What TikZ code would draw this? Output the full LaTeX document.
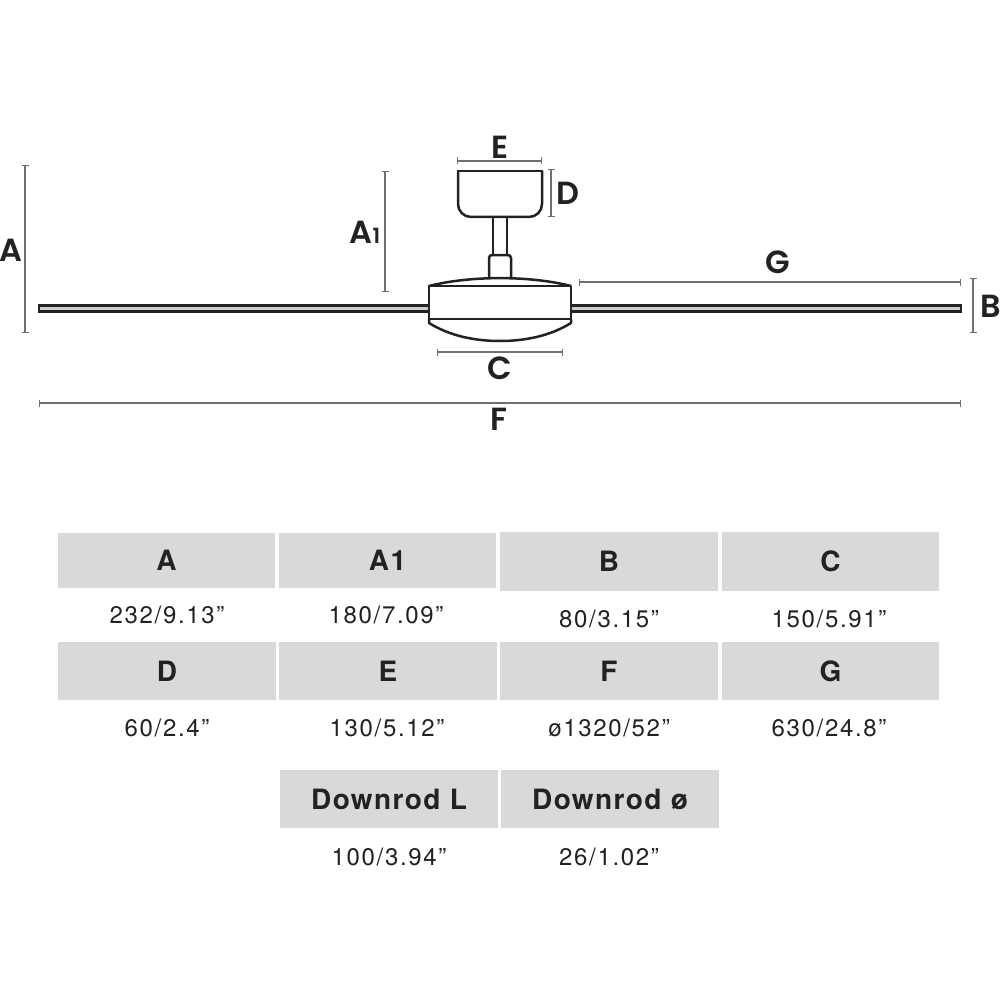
\documentclass[tikz,border=0pt]{standalone}
\usepackage{fontspec}
\setmainfont{TeX Gyre Heros}
\newfontfamily\dimfont[UprightFont=* SemiBold]{Poppins}
\newfontfamily\headfont[LetterSpace=5]{TeX Gyre Heros}
\newfontfamily\valfont[LetterSpace=7]{TeX Gyre Heros}
\usetikzlibrary{arrows.meta}
\definecolor{ink}{HTML}{222222}
\definecolor{dimgrey}{HTML}{707070}
\definecolor{cellgrey}{HTML}{D9D9D9}
\definecolor{bladegrey}{HTML}{CCCCCC}
\begin{document}
\begin{tikzpicture}[x=1pt, y=-1pt,
	part/.style = {draw=ink, line width=2.5pt, line join=round},
	blade/.style = {draw=ink, line width=2.2pt, fill=bladegrey},
	dim/.style = {draw=dimgrey, line width=1.7pt, {Bar[width=7pt,line width=1.2pt]}-{Bar[width=7pt,line width=1.2pt]}},
	dimlabel/.style = {text=ink, inner sep=0pt, font=\dimfont\fontsize{32}{32}\selectfont},
	cell/.style = {fill=cellgrey, text=ink, inner sep=0pt, minimum width=217.5pt, text height=20pt, text depth=0pt, font=\headfont\bfseries\fontsize{28}{28}\selectfont},
	val/.style = {text=ink, inner sep=0pt, font=\valfont\fontsize{24}{24}\selectfont}]

		\useasboundingbox (0,0) rectangle (1000,1000);

		% fan
		\draw[blade] (39,305.5) rectangle (429,311.5);
		\draw[blade] (571,305.5) rectangle (961,311.5);
		\draw[part, rounded corners=13pt] (458,171) -- (458,217) -- (542,217) -- (542,171);
		\draw[part] (456.8,171) -- (543.2,171);
		\draw[part] (493,217) -- (493,255);
		\draw[part] (507,217) -- (507,255);
		\draw[part, rounded corners=3pt] (489,278) -- (489,255) -- (511,255) -- (511,278);
		\draw[part] (429,286) rectangle (571,319);
		\draw[part] (429,286) .. controls (470,275.5) and (530,275.5) .. (571,286);
		\draw[part] (429,319) -- (429,323) .. controls (450,336) and (475,341) .. (500,341) .. controls (525,341) and (550,336) .. (571,323) -- (571,319);

		% dimensions
		\coordinate (Atop) at (25,165);
		\coordinate (Abot) at (25,333);
		\coordinate (A1top) at (385,171);
		\coordinate (A1bot) at (385,292);
		\coordinate (Eleft) at (457,161);
		\coordinate (Eright) at (542,161);
		\coordinate (Dtop) at (551,169);
		\coordinate (Dbot) at (551,217);
		\coordinate (Cleft) at (437,352);
		\coordinate (Cright) at (563,352);
		\coordinate (Gleft) at (578.5,282);
		\coordinate (Gright) at (961,282);
		\coordinate (Btop) at (973,278);
		\coordinate (Bbot) at (973,333);
		\coordinate (Fleft) at (39,403);
		\coordinate (Fright) at (961,403);

		\draw[dim] (Atop) -- (Abot);
		\draw[dim] (A1top) -- (A1bot);
		\draw[dim] (Eleft) -- (Eright);
		\draw[dim] (Dtop) -- (Dbot);
		\draw[dim] (Cleft) -- (Cright);
		\draw[dim] (Gleft) -- (Gright);
		\draw[dim] (Btop) -- (Bbot);
		\draw[dim] (Fleft) -- (Fright);

		\node[dimlabel] (labA) at (11,250) {A};
		\node[dimlabel] (labA1) at (365,232) {A{\fontsize{21}{21}\selectfont 1}};
		\node[dimlabel] (labE) at (500,147) {E};
		\node[dimlabel] (labD) at (568,193) {D};
		\node[dimlabel] (labC) at (500,368) {C};
		\node[dimlabel] (labG) at (778,262) {G};
		\node[dimlabel] (labB) at (991,306) {B};
		\node[dimlabel] (labF) at (499,419) {F};

		% table
		\node[cell, minimum height=55pt] (cA) at (166.5,560.5) {A};
		\node[cell, minimum height=55pt] (cA1) at (387.5,560.5) {A1};
		\node[cell, minimum height=59pt] (cB) at (609,561.5) {B};
		\node[cell, minimum height=59pt] (cC) at (830.5,561.5) {C};
		\node[cell, minimum height=58pt] (cD) at (167,671) {D};
		\node[cell, minimum height=58pt] (cE) at (388,671) {E};
		\node[cell, minimum height=57.5pt] (cF) at (609,671) {F};
		\node[cell, minimum height=57.5pt] (cG) at (830.5,671) {G};
		\node[cell, minimum height=57.5pt] (cL) at (389,799) {Downrod L};
		\node[cell, minimum height=57.5pt] (cR) at (610,799) {Downrod ø};

		\node[val] (vA) at (167,615) {232/9.13”};
		\node[val] (vA1) at (386,615) {180/7.09”};
		\node[val] (vB) at (609,619) {80/3.15”};
		\node[val] (vC) at (829,619) {150/5.91”};
		\node[val] (vD) at (167,728) {60/2.4”};
		\node[val] (vE) at (387,728) {130/5.12”};
		\node[val] (vF) at (609,728) {ø1320/52”};
		\node[val] (vG) at (829,728) {630/24.8”};
		\node[val] (vL) at (389,857) {100/3.94”};
		\node[val] (vR) at (609,857) {26/1.02”};
	\end{tikzpicture}
\end{document}
